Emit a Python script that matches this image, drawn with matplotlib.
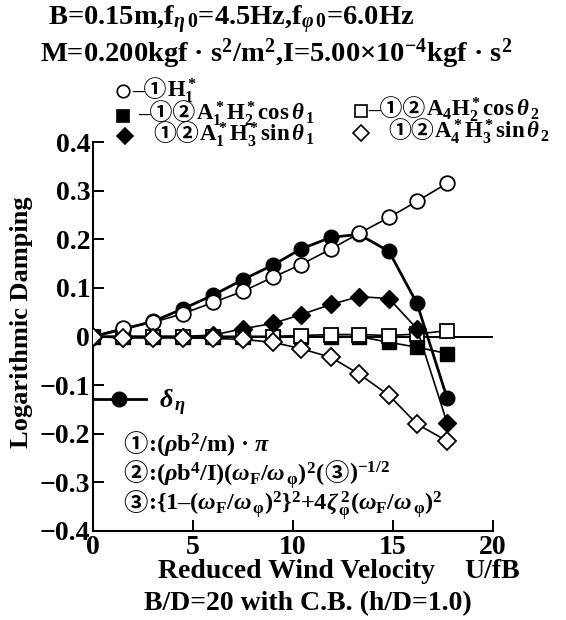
import matplotlib
matplotlib.use('Agg')
import matplotlib.pyplot as plt
from matplotlib.lines import Line2D

plt.rcParams['font.family'] = ['Liberation Serif', 'Noto Sans CJK JP', 'DejaVu Sans']
plt.rcParams['font.weight'] = 'bold'
plt.rcParams['mathtext.fontset'] = 'custom'
plt.rcParams['mathtext.rm'] = 'Liberation Serif:bold'
plt.rcParams['mathtext.it'] = 'Liberation Serif:italic:bold'
plt.rcParams['mathtext.default'] = 'regular'

# reduced wind velocity U/fB
u = [0, 1.5, 3.0, 4.5, 6.0, 7.5, 9.0, 10.4, 11.9, 13.3, 14.8, 16.2, 17.7]
# -(1)H1*
h1 = [0, 0.017, 0.029, 0.047, 0.070, 0.093, 0.122, 0.148, 0.180, 0.212, 0.245, 0.278, 0.315]
# delta_eta (measured)
delta_eta = [0, 0.015, 0.031, 0.057, 0.085, 0.117, 0.147, 0.180, 0.204, 0.210, 0.175, 0.068, -0.126]
# -(1)(2)A1*H2*cos th1
a1h2_cos = [0, 0, 0, 0, 0, 0, 0, 0, 0, 0, -0.012, -0.022, -0.035]
# (1)(2)A1*H3*sin th1
a1h3_sin = [0, 0, 0, 0, 0.003, 0.016, 0.027, 0.045, 0.066, 0.082, 0.078, 0.016, -0.177]
# -(1)(2)A4H2*cos th2
a4h2_cos = [0, 0, 0, 0, 0, 0, 0, 0.002, 0.004, 0.004, 0.002, 0.005, 0.012]
# (1)(2)A4*H3*sin th2
a4h3_sin = [0, -0.003, -0.003, -0.003, -0.004, -0.006, -0.012, -0.025, -0.043, -0.077, -0.121, -0.180, -0.215]

xticks = [0, 5, 10, 15, 20]
yticks = [-0.4, -0.3, -0.2, -0.1, 0, 0.1, 0.2, 0.3, 0.4]
ytick_labels = ['\u22120.4', '\u22120.3', '\u22120.2', '\u22120.1', '0', '0.1', '0.2', '0.3', '0.4']

W, H = 566, 620
fig = plt.figure(figsize=(W / 100, H / 100), dpi=100)
ax = fig.add_axes([93 / W, 1 - 531 / H, 400 / W, 389 / H])


def fx(px):
    return px / W


def fy(py):
    return 1 - py / H


def chain(x, y, parts, size):
    # place text pieces one after another on a common baseline (figure pixels)
    prev = None
    for p in parts:
        if prev is None:
            prev = fig.text(fx(x), fy(y), p, fontsize=size, va='baseline', ha='left')
        else:
            prev = ax.annotate(p, xy=(1, fy(y)), xycoords=(prev, 'figure fraction'),
                               xytext=(0.3, 0), textcoords='offset points',
                               fontsize=size, va='baseline', ha='left',
                               annotation_clip=False)
    return prev


ax.axhline(0, color='black', lw=1.4, zorder=1)

lw = 1.2
ms = 10.5
ax.plot(u, a1h2_cos, color='black', lw=lw, marker='s', ms=ms - 1,
        mfc='black', mec='black', zorder=2)
ax.plot(u, a4h2_cos, color='black', lw=lw, marker='s', ms=ms - 1,
        mfc='white', mec='black', mew=1.3, zorder=3)
ax.plot(u, a1h3_sin, color='black', lw=lw, marker='D', ms=ms - 1,
        mfc='black', mec='black', zorder=4)
ax.plot(u, delta_eta, color='black', lw=2.0, marker='o', ms=ms,
        mfc='black', mec='black', zorder=5)
ax.plot(u, h1, color='black', lw=lw, marker='o', ms=ms,
        mfc='white', mec='black', mew=1.3, zorder=6)
ax.plot(u, a4h3_sin, color='black', lw=lw, marker='D', ms=ms - 1,
        mfc='white', mec='black', mew=1.3, zorder=7)

ax.set_xlim(0, 20)
ax.set_ylim(-0.4, 0.4)
ax.set_xticks(xticks)
ax.set_xticklabels([str(t) for t in xticks], fontsize=20)
ax.set_yticks(yticks)
ax.set_yticklabels(ytick_labels, fontsize=20)
ax.tick_params(axis='both', direction='in', length=8, width=1.4, pad=2)
ax.tick_params(axis='x', pad=3)
for s in ['top', 'right']:
    ax.spines[s].set_visible(False)
for s in ['left', 'bottom']:
    ax.spines[s].set_linewidth(1.5)
ax.patch.set_alpha(0)

# delta_eta legend inside the axes
h_d = Line2D([], [], color='black', lw=2.0, marker='o', ms=ms, mfc='black')
ax.legend([h_d], [r'$\mathit{\delta}_{\,\mathit{\eta}}$'], loc='center left',
          bbox_to_anchor=(0, -0.137), bbox_transform=ax.transData,
          frameon=False, borderpad=0, borderaxespad=0, handlelength=2.0,
          handletextpad=0.5, fontsize=19)

# formula notes
chain(123, 452, ['\u2460', r':($\mathit{\rho}$b$^2$/m) · $\mathit{\pi}$'], 17.5)
chain(123, 481, ['\u2461', r':($\mathit{\rho}$b$^4$/I)($\mathit{\omega}_F/\mathit{\omega}_{\,\varphi}$)$^2$(',
                 '\u2462', r')$^{-1/2}$'], 17.5)
chain(123, 511, ['\u2462', r':{1–($\mathit{\omega}_F/\mathit{\omega}_{\,\varphi}$)$^2$}$^2$+4$\mathit{\zeta}_{\,\varphi}^{\,2}$($\mathit{\omega}_F/\mathit{\omega}_{\,\varphi}$)$^2$'], 17.5)

# axis labels
fig.text(fx(297), fy(572), 'Reduced Wind Velocity', fontsize=20, ha='center', va='center')
fig.text(fx(492), fy(572), 'U/fB', fontsize=20, ha='center', va='center')
fig.text(fx(22), fy(322), 'Logarithmic Damping', fontsize=19, ha='center', va='center',
         rotation=90)
fig.text(fx(308), fy(604), 'B/D=20 with C.B. (h/D=1.0)', fontsize=20, ha='center', va='center')

# header
fig.text(fx(48), fy(25), r'B=0.15m,f$_{\mathit{\eta}\,0}$=4.5Hz,f$_{\mathit{\varphi}\,0}$=6.0Hz',
         fontsize=20.5, va='baseline')
fig.text(fx(40), fy(62), r'M=0.200kgf · s$^2$/m$^2$,I=5.00×10$^{-4}$kgf · s$^2$',
         fontsize=20.5, va='baseline')

# marker legend above the axes
keys = [
    (123, 91, 'o', 'white', 132, 97, ['–\u2460', r'H$_1^*$']),
    (123, 116, 's', 'black', 138, 120, ['–\u2460\u2461', r'A$_1^*$H$_2^*$cos$\,\mathit{\theta}_{\,1}$']),
    (125, 136, 'D', 'black', 153, 141, ['\u2460\u2461', r'A$_1^*$H$_3^*$sin$\,\mathit{\theta}_{\,1}$']),
    (361, 111, 's', 'white', 368, 116, ['–\u2460\u2461', r'A$_4$H$_2^*$cos$\,\mathit{\theta}_{\,2}$']),
    (361, 133, 'D', 'white', 388, 138, ['\u2460\u2461', r'A$_4^*$H$_3^*$sin$\,\mathit{\theta}_{\,2}$']),
]
for mx, my, mk, fc, tx, ty, parts in keys:
    fig.add_artist(Line2D([fx(mx)], [fy(my)], marker=mk, ms=9 if mk != 'D' else 8.5,
                          mfc=fc, mec='black', mew=1.2, ls='none',
                          transform=fig.transFigure))
    chain(tx, ty, parts, 16.5)

fig.savefig('out.png', dpi=100)
